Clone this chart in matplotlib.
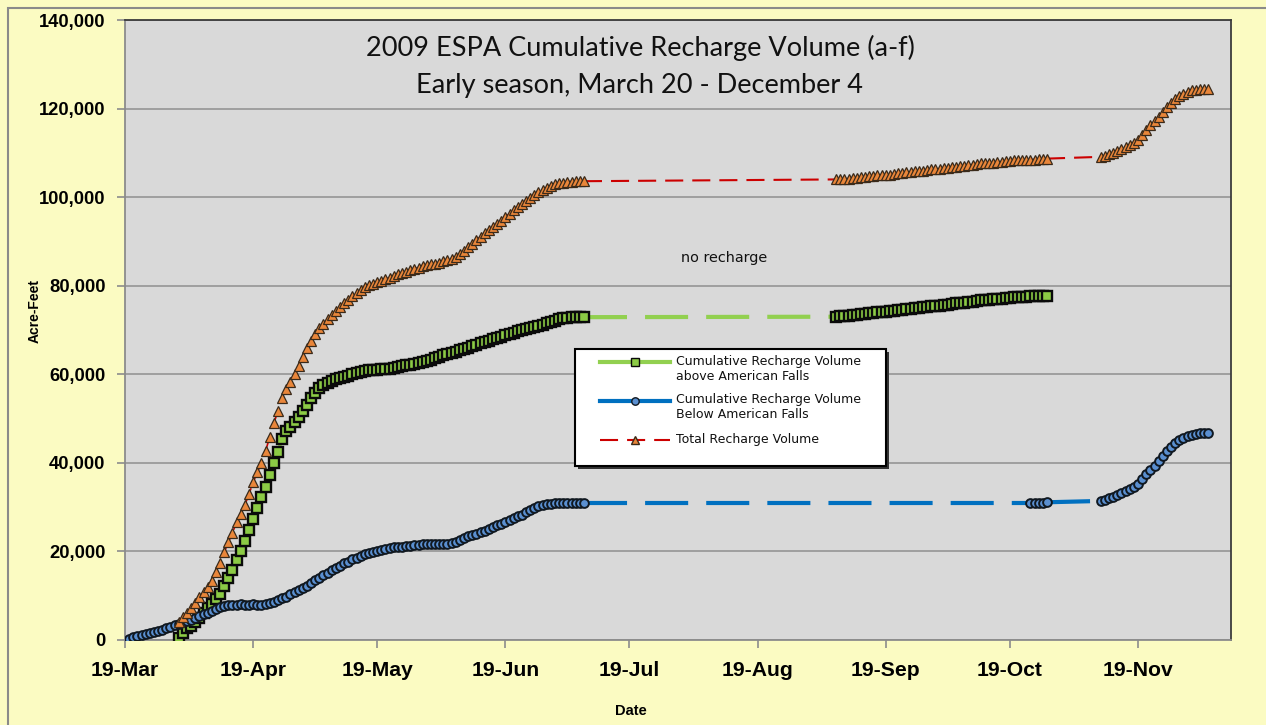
import numpy as np
import matplotlib
matplotlib.use("Agg")
import matplotlib.pyplot as plt
import matplotlib.dates as mdates
from matplotlib.lines import Line2D
from matplotlib.patches import Rectangle
from matplotlib.ticker import FuncFormatter
import datetime as dt

plt.rcParams['lines.scale_dashes'] = False

# ---------------- data (thousand acre-feet, daily) ----------------
above_seg1_start = "2009-04-01"
above_seg1 = [0.5, 1.5, 2.6, 3.2, 4.0, 5.0, 6.2, 7.2, 8.2, 9.3, 10.5, 12.3, 14.0, 15.9, 18.0,
              20.2, 22.4, 24.9, 27.3, 29.8, 32.3, 34.6, 37.2, 39.9, 42.5, 45.5, 47.2, 48.1, 49.2,
              50.4, 51.7, 53.1, 54.6, 55.8, 57.0, 57.6, 58.1, 58.5, 58.9, 59.2, 59.5, 59.7, 60.0,
              60.3, 60.6, 60.8, 60.9, 61.0, 61.0, 61.1, 61.2, 61.3, 61.5, 61.6, 61.8, 62.0, 62.1,
              62.4, 62.6, 62.8, 63.0, 63.3, 63.6, 63.9, 64.3, 64.6, 64.9, 65.1, 65.4, 65.7, 66.0,
              66.4, 66.7, 67.0, 67.3, 67.6, 67.9, 68.2, 68.5, 68.8, 69.1, 69.4, 69.7, 69.9, 70.2,
              70.4, 70.6, 70.9, 71.2, 71.5, 71.8, 72.1, 72.4, 72.6, 72.8, 72.9, 72.9, 72.9, 72.9]
above_seg2_start = "2009-09-07"
above_seg2 = [73.0, 73.1, 73.1, 73.2, 73.3, 73.5, 73.6, 73.7, 73.8, 73.9, 74.0, 74.1, 74.1,
              74.2, 74.4, 74.5, 74.6, 74.7, 74.8, 74.9, 75.0, 75.1, 75.2, 75.4, 75.4, 75.5,
              75.6, 75.7, 75.9, 76.0, 76.1, 76.2, 76.3, 76.4, 76.6, 76.7, 76.7, 76.8, 76.9,
              77.0, 77.1, 77.2, 77.3, 77.4, 77.4, 77.5, 77.5, 77.6, 77.6, 77.7, 77.7, 77.7]

below_seg1_start = "2009-03-20"
below_seg1 = [0.2, 0.6, 0.9, 1.1, 1.3, 1.5, 1.8, 2.0, 2.3, 2.6, 3.0, 3.3, 3.6, 4.0, 4.3, 4.6,
              5.0, 5.4, 5.8, 6.2, 6.6, 7.0, 7.4, 7.7, 7.9, 8.0, 8.0, 8.1, 8.0, 8.0, 8.1, 8.0,
              8.0, 8.1, 8.3, 8.6, 9.0, 9.4, 9.8, 10.3, 10.8, 11.3, 11.8, 12.3, 12.9, 13.5,
              14.0, 14.6, 15.2, 15.8, 16.3, 16.8, 17.3, 17.7, 18.2, 18.6, 19.0, 19.4, 19.7,
              19.9, 20.2, 20.4, 20.6, 20.8, 20.9, 21.0, 21.1, 21.2, 21.3, 21.4, 21.5, 21.6,
              21.6, 21.6, 21.7, 21.6, 21.6, 21.6, 21.8, 22.2, 22.6, 23.0, 23.4, 23.7, 24.0,
              24.3, 24.7, 25.1, 25.5, 25.9, 26.3, 26.7, 27.1, 27.5, 27.9, 28.3, 28.8, 29.3,
              29.8, 30.2, 30.5, 30.7, 30.8, 30.9, 30.9, 30.9, 30.9, 30.9, 30.9, 30.9, 30.9]
below_seg2_start = "2009-10-24"
below_seg2 = [30.9, 31.0, 31.0, 31.0, 31.1]
below_seg3_start = "2009-11-10"
below_seg3 = [31.4, 31.7, 32.0, 32.3, 32.7, 33.1, 33.6, 34.1, 34.6, 35.3, 36.4, 37.5, 38.5,
              39.4, 40.4, 41.5, 42.6, 43.6, 44.5, 45.2, 45.7, 46.1, 46.4, 46.6, 46.7, 46.8, 46.8]

total_seg1_start = "2009-04-01"
total_seg1 = [4.1, 5.3, 6.2, 7.2, 8.3, 9.8, 10.8, 12.0, 13.4, 15.4, 17.4, 19.8, 22.1, 24.2,
              26.7, 28.4, 30.5, 33.0, 35.6, 37.9, 39.9, 42.7, 45.8, 48.9, 51.8, 54.7, 56.7,
              58.2, 60.1, 61.9, 63.8, 65.9, 67.5, 69.0, 70.5, 71.4, 72.5, 73.5, 74.4, 75.2,
              76.0, 76.8, 77.7, 78.4, 79.1, 79.7, 80.1, 80.4, 80.8, 81.1, 81.5, 81.8, 82.2,
              82.6, 82.9, 83.2, 83.5, 83.8, 84.1, 84.4, 84.6, 84.8, 85.0, 85.2, 85.5, 85.8,
              86.1, 86.5, 87.1, 87.9, 88.7, 89.5, 90.4, 91.1, 91.8, 92.6, 93.3, 94.0, 94.7,
              95.5, 96.3, 97.0, 97.7, 98.4, 99.1, 99.9, 100.5, 101.1, 101.7, 102.1, 102.5,
              102.9, 103.1, 103.3, 103.5, 103.5, 103.6, 103.6, 103.6]
total_seg2_start = "2009-09-07"
total_seg2 = [104.0, 104.1, 104.1, 104.2, 104.3, 104.4, 104.5, 104.6, 104.7, 104.8, 104.9,
              105.0, 105.0, 105.1, 105.3, 105.4, 105.5, 105.6, 105.7, 105.8, 105.9, 106.0,
              106.1, 106.3, 106.3, 106.4, 106.5, 106.6, 106.8, 106.9, 107.0, 107.1, 107.2,
              107.3, 107.5, 107.6, 107.6, 107.7, 107.8, 107.9, 108.0, 108.1, 108.2, 108.3,
              108.3, 108.4, 108.4, 108.5, 108.5, 108.6, 108.6, 108.7]
total_seg3_start = "2009-11-10"
total_seg3 = [109.1, 109.4, 109.7, 110.0, 110.4, 110.8, 111.3, 111.8, 112.3, 113.0, 114.1,
              115.2, 116.2, 117.1, 118.1, 119.2, 120.3, 121.3, 122.2, 122.9, 123.4, 123.8,
              124.1, 124.3, 124.4, 124.5, 124.5]

y_ticks = [0, 20000, 40000, 60000, 80000, 100000, 120000, 140000]
x_start = "2009-03-19"
x_end = "2009-12-11"

title_lines = ["2009 ESPA Cumulative Recharge Volume (a-f)", "Early season, March 20 - December 4"]
legend_labels = ["Cumulative Recharge Volume\nabove American Falls",
                 "Cumulative Recharge Volume\nBelow American Falls",
                 "Total Recharge Volume"]

# ---------------- helpers ----------------
def seg(start, vals):
    d0 = np.datetime64(start)
    dates = d0 + np.arange(len(vals)).astype('timedelta64[D]')
    return dates.astype('datetime64[ms]').astype(dt.datetime), np.array(vals) * 1000.0

GREEN = "#92D050"
BLUE = "#0070C0"
RED = "#CC0000"
SQ_FACE = "#8CCB45"
CIR_FACE = "#5A8FD0"
TRI_FACE = "#E9863A"

W, H = 1266, 725
fig = plt.figure(figsize=(W / 100, H / 100), dpi=100, facecolor="#FBFBC2")
ax = fig.add_axes([125 / W, 1 - 640 / H, 1106 / W, 620 / H])
ax.set_facecolor("#D9D9D9")

# outer chart border
fig.patches.append(Rectangle((8 / W, -0.1), 1.2, 1 - 8 / H + 0.1, transform=fig.transFigure,
                             fill=False, edgecolor="#8A8A8A", lw=1.5))

dash_long = (0, (31, 13))
dash_red = (0, (13, 6.5))

segments = {
    "above": [seg(above_seg1_start, above_seg1), seg(above_seg2_start, above_seg2)],
    "below": [seg(below_seg1_start, below_seg1), seg(below_seg2_start, below_seg2),
              seg(below_seg3_start, below_seg3)],
    "total": [seg(total_seg1_start, total_seg1), seg(total_seg2_start, total_seg2),
              seg(total_seg3_start, total_seg3)],
}
styles = {
    "above": dict(color=GREEN, lw=3.0, gap_ls=dash_long, marker="s", ms=7.2, mfc=SQ_FACE,
                  mec="#0A0A0A", mew=1.7, seg_ls="-"),
    "below": dict(color=BLUE, lw=3.0, gap_ls=dash_long, marker="o", ms=6.3, mfc=CIR_FACE,
                  mec="#101820", mew=1.4, seg_ls="-"),
    "total": dict(color=RED, lw=1.5, gap_ls=dash_red, marker="^", ms=7.6, mfc=TRI_FACE,
                  mec="#3A2A1A", mew=0.9, seg_ls=dash_red),
}

z = 3
for key in ["above", "below", "total"]:
    st = styles[key]
    segs = segments[key]
    # dashed connectors over the gaps
    for (d1, v1), (d2, v2) in zip(segs[:-1], segs[1:]):
        ax.plot([d1[-1], d2[0]], [v1[-1], v2[0]], color=st["color"], lw=st["lw"],
                linestyle=st["gap_ls"], zorder=z, solid_capstyle="butt", dash_capstyle="butt")
    for d, v in segs:
        ax.plot(d, v, color=st["color"], lw=st["lw"] * 0.8, linestyle=st["seg_ls"], zorder=z,
                marker=st["marker"], ms=st["ms"], mfc=st["mfc"], mec=st["mec"], mew=st["mew"])
    z += 1

# axes setup
ax.set_xlim(mdates.date2num(np.datetime64(x_start)), mdates.date2num(np.datetime64(x_end)) + 0.5)
ax.set_ylim(0, 140000)
ax.set_yticks(y_ticks)
ax.yaxis.set_major_formatter(FuncFormatter(lambda v, p: f"{int(v):,}"))
ax.xaxis.set_major_locator(mdates.MonthLocator(bymonthday=19))
ax.xaxis.set_major_formatter(mdates.DateFormatter("%d-%b"))
ax.grid(axis="y", color="#9A9A9A", lw=1.3)
ax.set_axisbelow(True)
for s in ["left", "bottom"]:
    ax.spines[s].set_color("#8C8C8C")
    ax.spines[s].set_linewidth(1.3)
for s in ["top", "right"]:
    ax.spines[s].set_color("#3C3C3C")
    ax.spines[s].set_linewidth(1.3)
ax.tick_params(axis="both", direction="out", length=6, width=1.2, color="#8C8C8C")
for lab in ax.get_yticklabels():
    lab.set_fontfamily("Liberation Sans")
    lab.set_fontweight("bold")
    lab.set_fontsize(13.2)
for lab in ax.get_xticklabels():
    lab.set_fontfamily("Liberation Sans")
    lab.set_fontweight("bold")
    lab.set_fontsize(15.2)
ax.tick_params(axis="x", pad=9)
ax.tick_params(axis="y", pad=8)

ax.set_ylabel("Acre-Feet", fontfamily="Liberation Sans", fontweight="bold", fontsize=10)
ax.set_xlabel("Date", fontfamily="Liberation Sans", fontweight="bold", fontsize=10.5)
ax.yaxis.set_label_coords(-0.075, 0.53)
ax.xaxis.set_label_coords(0.457, -0.104)

# title inside the plot
ax.text(0.4656, 0.955, title_lines[0], transform=ax.transAxes, ha="center", va="center",
        fontfamily="Lato", fontsize=19.5, color="#111111")
ax.text(0.4656, 0.895, title_lines[1], transform=ax.transAxes, ha="center", va="center",
        fontfamily="Lato", fontsize=19.5, color="#111111")

ax.text(mdates.date2num(np.datetime64("2009-08-11")), 86200, "no recharge", ha="center",
        va="center", fontfamily="DejaVu Sans", fontsize=10.4, color="#111111")

# legend box (axes coordinates from pixel layout)
def ax_xy(px, py):
    return (px - 125) / 1106, (640 - py) / 620

lx0, ly0 = ax_xy(575, 466)
lx1, ly1 = ax_xy(886, 349)
sx, sy = 3 / 1106, 3 / 620
ax.add_patch(Rectangle((lx0 + sx, ly0 - sy), lx1 - lx0, ly1 - ly0, transform=ax.transAxes,
                       facecolor="#333333", edgecolor="none", zorder=10))
ax.add_patch(Rectangle((lx0, ly0), lx1 - lx0, ly1 - ly0, transform=ax.transAxes,
                       facecolor="white", edgecolor="black", lw=1.5, zorder=11))

entries = [("above", 355, 362), ("below", 393, 401), ("total", 440, 440)]
for (key, ty, hy), label in zip(entries, legend_labels):
    st = styles[key]
    x0, y = ax_xy(600, hy)
    x1, _ = ax_xy(670, hy)
    xm, _ = ax_xy(635, hy)
    ls = "-" if key != "total" else dash_red
    ax.add_line(Line2D([x0, x1], [y, y], transform=ax.transAxes, color=st["color"], lw=st["lw"],
                       linestyle=ls, zorder=12))
    ax.add_line(Line2D([xm], [y], transform=ax.transAxes, marker=st["marker"], ms=st["ms"] * 0.85,
                       mfc=st["mfc"], mec=st["mec"], mew=1.0, zorder=13, linestyle="none"))
    tx, tyy = ax_xy(676, ty)
    ax.text(tx, tyy, label, transform=ax.transAxes, ha="left", va="top" if "\n" in label else "center",
            fontfamily="DejaVu Sans", fontsize=9.0, color="#111111", zorder=13, linespacing=1.2)

fig.savefig("out.png", dpi=100, facecolor=fig.get_facecolor())
